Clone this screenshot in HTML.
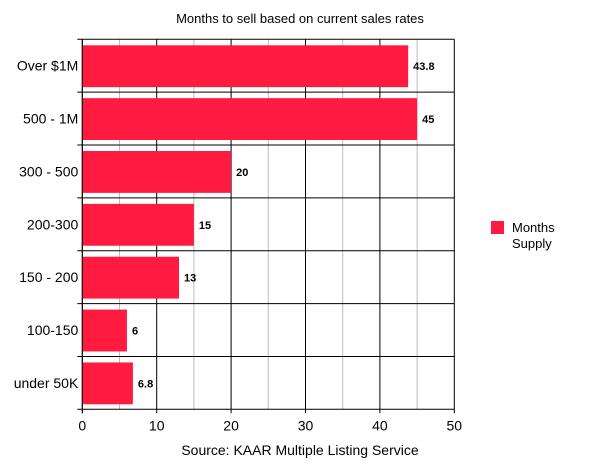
<!DOCTYPE html>
<html><head><meta charset="utf-8"><style>
body{margin:0;background:#fff;}
svg text{font-family:"Liberation Sans",Arial,sans-serif;}
</style></head><body>
<svg id="chart" width="600" height="463" xmlns="http://www.w3.org/2000/svg">
<text x="300" y="23" text-anchor="middle" font-size="13">Months to sell based on current sales rates</text>
<g id="grid"></g><g id="bars"></g><g id="axes"></g>
<text x="300" y="455" text-anchor="middle" font-size="14">Source: KAAR Multiple Listing Service</text>
<g>
<rect x="491" y="221" width="13" height="13" fill="#ff1a40"/>
<text x="512" y="232" font-size="13">Months</text>
<text x="512" y="248" font-size="13">Supply</text>
</g>
</svg>
<script>
const categories=["Over $1M","500 - 1M","300 - 500","200-300","150 - 200","100-150","under 50K"];
const values=[43.8,45,20,15,13,6,6.8];
const valueLabels=["43.8","45","20","15","13","6","6.8"];
const xTicks=[0,10,20,30,40,50];
const minorTicks=[5,15,25,35,45];
const NS="http://www.w3.org/2000/svg";
const L=82.3,R=454.3,T=39.3,B=409.3,XMAX=50;
const x=v=>L+(R-L)*v/XMAX;
const rowH=(B-T)/categories.length;
const y=i=>T+i*rowH;
function mk(tag,attrs,parent){const e=document.createElementNS(NS,tag);for(const k in attrs)e.setAttribute(k,attrs[k]);document.getElementById(parent).appendChild(e);return e;}
minorTicks.forEach(t=>{const e=mk('line',{x1:x(t),x2:x(t),y1:T,y2:B,stroke:'#bbb','stroke-width':1},'grid');

});
xTicks.forEach(t=>{const e=mk('line',{x1:x(t),x2:x(t),y1:T,y2:B+4,stroke:'#000','stroke-width':1},'grid');


const l=mk('text',{x:x(t),y:B+21,'text-anchor':'middle','font-size':14},'axes');l.textContent=t;

});
for(let i=0;i<=categories.length;i++){const e=mk('line',{x1:L-5,x2:R,y1:y(i),y2:y(i),stroke:'#000','stroke-width':1},'grid');

}
categories.forEach((c,i)=>{
const top=y(i)+6,h=rowH-11;
const b=mk('rect',{x:L,y:top,width:x(values[i])-L,height:h,fill:'#ff1a40'},'bars');


const v=mk('text',{x:x(values[i])+5,y:top+h/2+4,'font-size':11,'font-weight':'bold'},'bars');v.textContent=valueLabels[i];


const l=mk('text',{x:L-4,y:y(i)+rowH/2+5,'text-anchor':'end','font-size':14},'axes');l.textContent=c;


});
const ax=mk('line',{x1:L,x2:L,y1:T,y2:B+4,stroke:'#000'},'axes');


</script>
</body></html>
